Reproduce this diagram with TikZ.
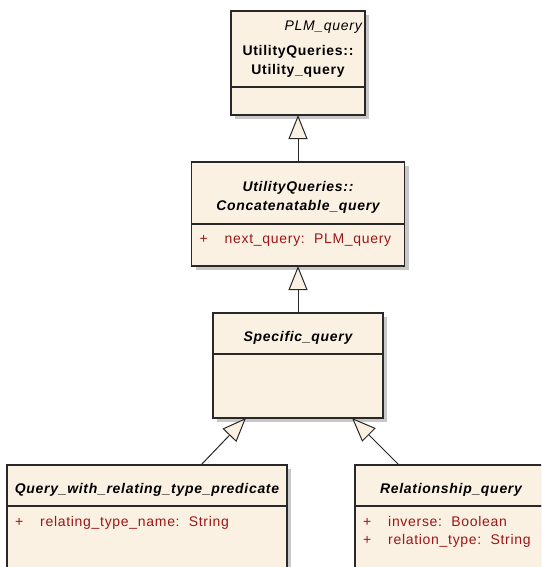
\documentclass[tikz,border=0pt]{standalone}
\usepackage{fontspec}
\setmainfont{Liberation Sans}[LetterSpace=5]
\usetikzlibrary{positioning}
\usetikzlibrary{shadows,arrows.meta}
\definecolor{classfill}{RGB}{251,241,227}
\definecolor{attrred}{RGB}{155,22,22}
\definecolor{shadowgray}{RGB}{200,200,200}
\definecolor{lineblack}{RGB}{40,40,40}
\tikzset{x=1pt, y=-1pt, font=\fontsize{14}{18}\selectfont}
\tikzstyle{classhead} = [draw=lineblack, fill=classfill, rectangle, line width=1.3pt, inner sep=0pt, outer sep=0pt, general shadow={fill=shadowgray, shadow xshift=4pt, shadow yshift=-4pt}]
\tikzstyle{classbody} = [classhead]
\tikzstyle{classtitle} = [inner sep=0pt, align=center, font=\fontsize{14}{19}\selectfont\bfseries\itshape]
\tikzstyle{stereo} = [inner sep=0pt, font=\fontsize{14}{18}\selectfont\itshape]
\tikzstyle{attr} = [inner sep=0pt, anchor=base west, align=left, text=attrred]
\tikzstyle{gen} = [draw=lineblack, line width=1pt, -{Triangle[length=24pt, width=19pt, fill=classfill]}]
\newcommand{\attrplus}{\makebox[25pt][l]{+}}

\begin{document}
\begin{tikzpicture}
    \useasboundingbox (0,0) rectangle (541,567);
    \clip (0,0) rectangle (541,567);

    % class boxes, header over compartment
    \node [classhead, minimum width=134pt, minimum height=76pt, anchor=north west] (hdrA) at (231,11) {};
    \node [classbody, minimum width=134pt, minimum height=28pt, below=0pt of hdrA] (bodyA) {};
    \node [classhead, minimum width=213pt, minimum height=62pt, below=47pt of bodyA] (hdrB) {};
    \node [classbody, minimum width=213pt, minimum height=42pt, below=0pt of hdrB] (bodyB) {};
    \node [classhead, minimum width=170pt, minimum height=41pt, below=47pt of bodyB] (hdrC) {};
    \node [classbody, minimum width=170pt, minimum height=64pt, below=0pt of hdrC] (bodyC) {};
    \node [classhead, minimum width=280pt, minimum height=41pt, anchor=north west] (hdrD) at (7,465) {};
    \node [classbody, minimum width=280pt, minimum height=90pt, below=0pt of hdrD] (bodyD) {};
    \node [classhead, minimum width=230pt, minimum height=41pt, anchor=north west] (hdrE) at (355,465) {};
    \node [classbody, minimum width=230pt, minimum height=90pt, below=0pt of hdrE] (bodyE) {};

    % names
    \node [stereo, below left=10pt and 3pt of hdrA.north east] (stereoA) {PLM\_query};
    \node [classtitle, font=\fontsize{14}{19}\selectfont\bfseries, below=34pt of hdrA.north] (nameA) {UtilityQueries::\\Utility\_query};
    \node [classtitle, below=19pt of hdrB.north] (nameB) {UtilityQueries::\\Concatenatable\_query};
    \node [classtitle, below=18pt of hdrC.north] (nameC) {Specific\_query};
    \node [classtitle, below=18pt of hdrD.north] (nameD) {Query\_with\_relating\_type\_predicate};
    \node [classtitle, below=18pt of hdrE.north, xshift=-19pt] (nameE) {Relationship\_query};

    % attributes
    \node [attr] (attrB) at ([shift={(8,19)}]bodyB.north west) {\attrplus next\_query:\ \ PLM\_query};
    \node [attr] (attrD) at ([shift={(8,20)}]bodyD.north west) {\attrplus relating\_type\_name:\ \ String};
    \node [attr] (attrE) at ([shift={(8,38)}]bodyE.north west) {\attrplus inverse:\ \ Boolean\\\attrplus relation\_type:\ \ String};

    % generalisations
    \draw [gen] (hdrB.north) -- (bodyA.south);
    \draw [gen] (hdrC.north) -- (bodyB.south);
    \draw [gen] ([xshift=54pt]hdrD.north) -- ([xshift=-52pt]bodyC.south);
    \draw [gen] ([xshift=-71pt]hdrE.north) -- ([xshift=54pt]bodyC.south);
\end{tikzpicture}
\end{document}
